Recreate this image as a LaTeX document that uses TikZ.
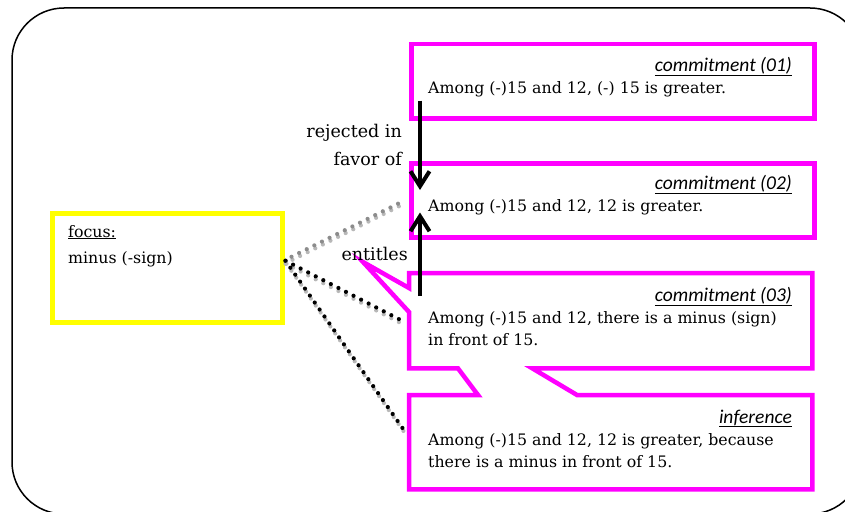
\documentclass[tikz,border=0pt]{standalone}
\usepackage{fontspec}
\setmainfont{DejaVu Serif}
\newfontfamily\labfont{Carlito}
\usetikzlibrary{arrows.meta,calc}
\definecolor{mag}{RGB}{255,0,255}
\definecolor{yel}{RGB}{255,255,0}
\begin{document}
\begin{tikzpicture}[x=1pt,y=-1pt,
  box/.style={draw=mag,line width=4.5pt,fill=white,inner sep=0pt,minimum width=403pt},
  focusbox/.style={draw=yel,line width=4.5pt,fill=white,inner sep=0pt,minimum width=230pt,minimum height=109pt},
  body/.style={inner sep=0pt,font=\fontsize{15.8}{22}\selectfont,align=left},
  lbl/.style={inner sep=0pt,font=\labfont\itshape\fontsize{19.5}{22}\selectfont},
  rel/.style={inner sep=0pt,font=\fontsize{17.5}{22}\selectfont},
  ftext/.style={inner sep=0pt,font=\fontsize{15.8}{22}\selectfont},
  dots/.style={line width=4.2pt,dash pattern=on 0pt off 8.5pt,line cap=round},
  shadow/.style={dots,draw=black!28},
  arr/.style={line width=4pt,-{Straight Barb[length=15pt,width=19pt,line width=4pt]}}
]
\useasboundingbox (0,0) rectangle (845,511);
\clip (0,0) rectangle (845,511);
% outer frame
\draw[line width=1.5pt,rounded corners=52pt] (12,8) rectangle (862,514);

% boxes
\node[box,minimum height=74pt,anchor=north west] (b1) at (409,42) {};
\node[box,minimum height=74pt,anchor=north west] (b2) at (409,161) {};
\node[inner sep=0pt,minimum width=403pt,minimum height=95pt,anchor=north west] (b3) at (409,273) {};
\node[inner sep=0pt,minimum width=403pt,minimum height=94pt,anchor=north west] (b4) at (409,395) {};
\coordinate (tip) at (363,262);
\draw[draw=mag,line width=4.5pt,fill=white,line join=miter]
  ([yshift=-15pt]b3.north west) -- (b3.north west) -- (b3.north east) -- (b3.south east)
  -- ([xshift=-280pt]b3.south east) -- ([xshift=168pt]b4.north west) -- (b4.north east)
  -- (b4.south east) -- (b4.south west) -- (b4.north west) -- ([xshift=69pt]b4.north west)
  -- ([xshift=49pt]b3.south west) -- (b3.south west) -- ([yshift=-39pt]b3.north west)
  -- (tip) -- cycle;

\node[focusbox,anchor=north west] (focus) at (50,211) {};

% connectors (dotted)
\coordinate (fs) at ([xshift=1pt,yshift=7pt]focus.east);
\draw[shadow] ([xshift=7pt,yshift=1pt]fs) -- ([xshift=-4pt,yshift=-3pt]b2.west);
\draw[dots,draw=black!45] ([xshift=6pt,yshift=4pt]fs) -- ([xshift=-4pt]b2.west);
\draw[shadow] ([yshift=-3pt]fs) -- ([xshift=-7pt,yshift=-3pt]b3.west);
\draw[dots] (fs) -- ([xshift=-7pt]b3.west);
\draw[shadow] ([xshift=1pt,yshift=-3pt]fs) -- ([xshift=-4pt,yshift=9pt]b4.west);
\draw[dots] (fs) -- ([xshift=-5pt,yshift=12pt]b4.west);

% texts
\node[ftext,anchor=base west] (ft) at (68,237) {\underline{focus:}};
\node[ftext,anchor=base west] (fm) at (68,263) {minus (-sign)};

\node[lbl,anchor=base east] (l1) at (792,71) {\underline{commitment (01)}};
\node[body,anchor=base west] (t1) at (428,93) {Among (-)15 and 12, (-) 15 is greater.};
\node[lbl,anchor=base east] (l2) at (792,189) {\underline{commitment (02)}};
\node[body,anchor=base west] (t2) at (428,211) {Among (-)15 and 12, 12 is greater.};
\node[lbl,anchor=base east] (l3) at (792,301) {\underline{commitment (03)}};
\node[body,anchor=base west] (t3) at (428,345) {Among (-)15 and 12, there is a minus (sign)\\in front of 15.};
\node[lbl,anchor=base east] (l4) at (792,423) {\underline{inference}};
\node[body,anchor=base west] (t4) at (428,467) {Among (-)15 and 12, 12 is greater, because\\there is a minus in front of 15.};

\node[rel,anchor=base east] (r1) at (402,137) {rejected in};
\node[rel,anchor=base east] (r2) at (402,165) {favor of};
\node[rel,anchor=base east] (en) at (408,260) {entitles};

% arrows
\draw[arr] ([xshift=11pt,yshift=20pt]b1.south west) -- ([xshift=11pt,yshift=-29pt]b2.north west);
\draw[arr] ([xshift=11pt,yshift=-23pt]b3.north west) -- ([xshift=11pt,yshift=27pt]b2.south west);
\end{tikzpicture}
\end{document}
